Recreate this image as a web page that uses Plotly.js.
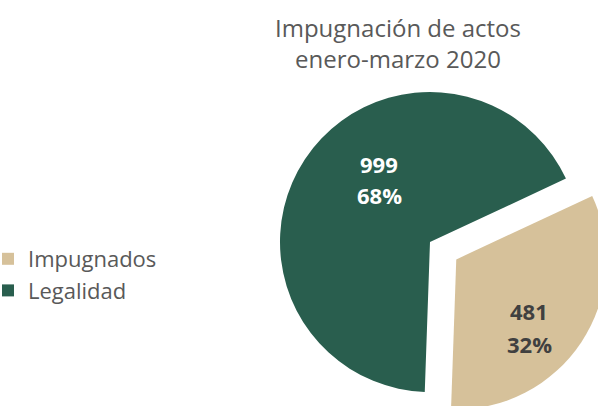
<!DOCTYPE html>
<html>
<head>
<meta charset="utf-8">
<script src="https://cdn.plot.ly/plotly-3.0.1.min.js"></script>
<style>
  html, body { margin: 0; padding: 0; background: #ffffff; overflow: hidden; }
  #wrap { width: 598px; height: 406px; overflow: hidden; position: relative; }
  #chart { width: 652px; height: 440px; position: absolute; left: -12px; top: 0; }
</style>
</head>
<body>
<div id="wrap"><div id="chart"></div></div>
<script>
const labels = ['Impugnados', 'Legalidad'];
const values = [481, 999];
const pctLabels = ['32%', '68%'];
const colors = ['#D6C19A', '#295E4E'];
const titleText = 'Impugnación de actos<br>enero-marzo 2020';

const W = 652, H = 440, OFF = 12;
const px = x => (x + OFF) / W;
const py = y => 1 - y / H;

const trace = {
  type: 'pie',
  labels: labels,
  values: values,
  marker: { colors: colors, line: { width: 0 } },
  sort: false,
  direction: 'clockwise',
  rotation: 65,
  pull: [0.21, 0],
  textinfo: 'none',
  hoverinfo: 'label+value+percent',
  domain: { x: [px(248.5), px(611.5)], y: [py(423.5), py(60.5)] }
};

// label line centres (value line, percent line)
const labelPos = [[529, 311, 344], [379, 164, 195]];
const labelColors = ['#404040', '#ffffff'];
const annotations = [];
labels.forEach((l, i) => {
  const f = { family: 'Open Sans, sans-serif', size: 22, color: labelColors[i] };
  annotations.push({
    xref: 'paper', yref: 'paper',
    x: px(labelPos[i][0]), y: py(labelPos[i][1]),
    xanchor: 'center', yanchor: 'middle',
    text: '<b>' + values[i] + '</b>', showarrow: false, font: f
  });
  annotations.push({
    xref: 'paper', yref: 'paper',
    x: px(labelPos[i][0]), y: py(labelPos[i][2]),
    xanchor: 'center', yanchor: 'middle',
    text: '<b>' + pctLabels[i] + '</b>', showarrow: false, font: f
  });
});

const layout = {
  width: W, height: H,
  margin: { l: 0, r: 0, t: 0, b: 0 },
  paper_bgcolor: '#ffffff',
  font: { family: 'Open Sans, sans-serif', color: '#595959' },
  title: {
    text: titleText,
    x: px(398), xanchor: 'center', xref: 'paper',
    y: py(37), yanchor: 'top', yref: 'container',
    font: { family: 'Open Sans, sans-serif', size: 24, color: '#595959' }
  },
  showlegend: true,
  legend: {
    x: 0, xanchor: 'left',
    y: py(275), yanchor: 'middle',
    font: { family: 'Open Sans, sans-serif', size: 22, color: '#595959' },
    bgcolor: 'rgba(0,0,0,0)'
  },
  annotations: annotations
};

Plotly.newPlot('chart', [trace], layout, { displayModeBar: false, staticPlot: true });
</script>
</body>
</html>
